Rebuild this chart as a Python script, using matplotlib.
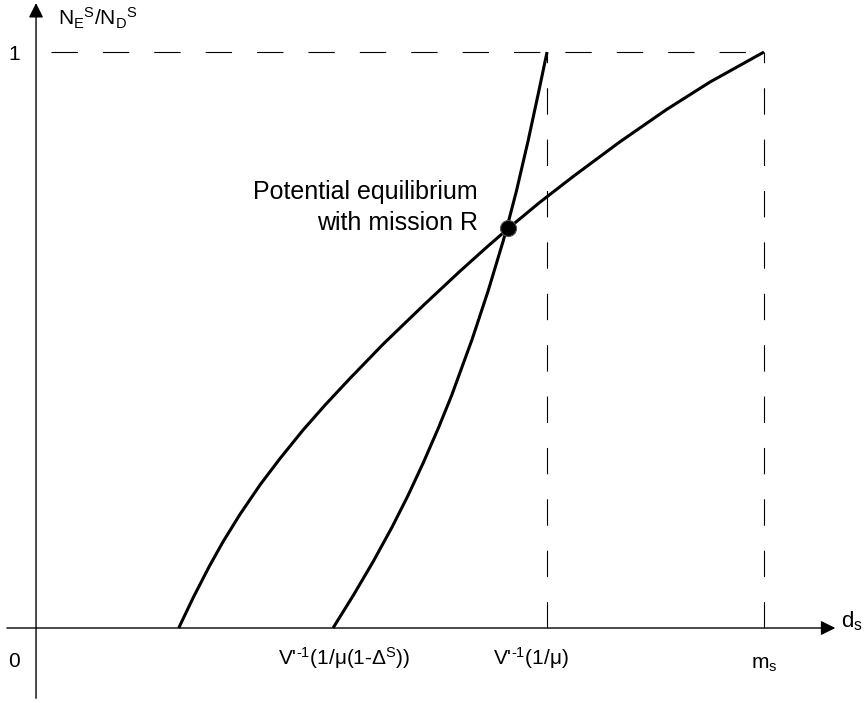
import matplotlib
matplotlib.use("Agg")
import matplotlib.pyplot as plt

plt.rcParams['font.family'] = ['Liberation Sans', 'DejaVu Sans']
plt.rcParams['mathtext.fontset'] = 'custom'
plt.rcParams['mathtext.rm'] = 'Liberation Sans'
plt.rcParams['mathtext.it'] = 'Liberation Sans'
plt.rcParams['mathtext.default'] = 'regular'
plt.rcParams['lines.scale_dashes'] = False

# flatter curve
a_x = [0.196, 0.216, 0.238, 0.257, 0.280, 0.308, 0.335, 0.367, 0.397, 0.431,
       0.477, 0.532, 0.582, 0.619, 0.649, 0.692, 0.738, 0.802, 0.866, 0.926, 1.0]
a_y = [0.0, 0.053, 0.107, 0.150, 0.197, 0.249, 0.294, 0.344, 0.387, 0.433,
       0.493, 0.560, 0.619, 0.661, 0.694, 0.739, 0.784, 0.844, 0.900, 0.948, 1.0]

# steeper curve
b_x = [0.408, 0.436, 0.463, 0.489, 0.511, 0.532, 0.553, 0.571, 0.599, 0.621,
       0.642, 0.647, 0.660, 0.676, 0.690, 0.702]
b_y = [0.0, 0.057, 0.115, 0.175, 0.230, 0.287, 0.348, 0.404, 0.501, 0.585,
       0.673, 0.696, 0.759, 0.846, 0.928, 1.0]

# equilibrium point
eq_x = 0.648
eq_y = 0.695

# marked x positions
v_low = 0.408
v_mu = 0.702
m_s = 1.0

hy = "\u2010"  # plain hyphen inside the superscript
tick_labels = [r"V$'^{" + hy + r"1}$(1/μ(1-Δ$^{S}$))", r"V$'^{" + hy + r"1}$(1/μ)", r"m$_{s}$"]


def main():
    fig = plt.figure(figsize=(8.64, 7.03), dpi=100)
    ax = fig.add_axes([0, 0, 1, 1])
    ax.set_xlim(-0.0495, 1.1374)
    ax.set_ylim(-0.1302, 1.0903)
    ax.axis('off')

    # axes with arrows
    ax.annotate('', xy=(1.098, 0), xytext=(-0.040, 0),
                arrowprops=dict(arrowstyle='-|>', mutation_scale=22, lw=1.0, color='k',
                                shrinkA=0, shrinkB=0))
    ax.annotate('', xy=(0, 1.085), xytext=(0, -0.122),
                arrowprops=dict(arrowstyle='-|>', mutation_scale=22, lw=1.0, color='k',
                                shrinkA=0, shrinkB=0))

    # dashed guides
    dash = (0, (19, 18))
    ax.plot([0.02, m_s], [1, 1], color='k', lw=0.8, linestyle=dash)
    ax.plot([v_mu, v_mu], [0, 1], color='k', lw=0.8, linestyle=dash)
    ax.plot([m_s, m_s], [0, 1], color='k', lw=0.8, linestyle=dash)

    # curves
    ax.plot(a_x, a_y, color='k', lw=2.2, solid_capstyle='butt', solid_joinstyle='round')
    ax.plot(b_x, b_y, color='k', lw=2.2, solid_capstyle='butt', solid_joinstyle='round')
    ax.plot([eq_x], [eq_y], 'o', color='k', markersize=11.5, markeredgecolor='#555555',
            markeredgewidth=0.8, zorder=5)

    ax.text(0.607, 0.683, "Potential equilibrium\nwith mission R",
            ha='right', va='bottom', fontsize=18, linespacing=1.35)

    # labels
    ax.text(0.030, 1.058, r"N$_{E}$$^{S}$/N$_{D}$$^{S}$", ha='left', va='center', fontsize=15)
    ax.text(-0.030, 0.995, "1", ha='center', va='center', fontsize=15)
    ax.text(-0.030, -0.059, "0", ha='center', va='center', fontsize=15)
    ax.text(1.106, 0.012, r"d$_{s}$", ha='left', va='center', fontsize=16)

    ax.text(0.423, -0.052, tick_labels[0], ha='center', va='center', fontsize=15)
    ax.text(0.680, -0.052, tick_labels[1], ha='center', va='center', fontsize=15)
    ax.text(m_s, -0.064, tick_labels[2], ha='center', va='center', fontsize=15)

    fig.savefig('out.png', dpi=100)


if __name__ == "__main__":
    main()
